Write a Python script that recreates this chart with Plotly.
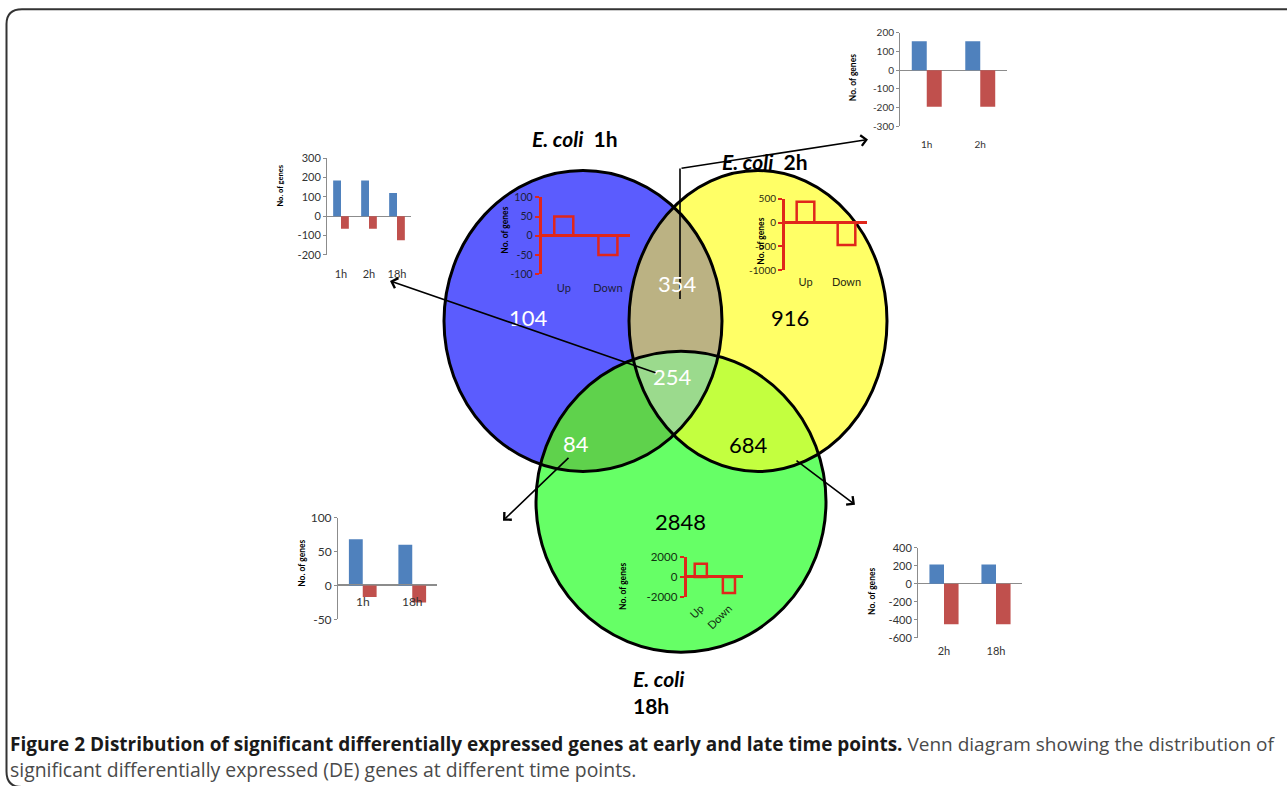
import numpy as np
import plotly.graph_objects as go

W, H = 1287, 786          # reference picture size
FW, FH = W, 800           # figure size (pinned to the page corner)
# measured mapping of page rows onto the photographed picture: pic_y = A_Y + B_Y * page_y
A_Y, B_Y = 8.0, 0.978
Y_TOP, Y_BOT = A_Y, A_Y + B_Y * FH

# ---------------- data ----------------
venn_labels = ["104", "354", "916", "254", "84", "684", "2848"]
venn_counts = [104, 354, 916, 254, 84, 684, 2848]
venn_text_colors = ["white", "white", "black", "white", "white", "black", "black"]

# shared by 1h, 2h and 18h (region 254)
c254_cats = ["1h", "2h", "18h"]
c254_up = [185, 185, 120]
c254_down = [-65, -65, -125]
# shared by 1h and 2h (region 354)
c354_cats = ["1h", "2h"]
c354_up = [155, 155]
c354_down = [-195, -195]
# shared by 1h and 18h (region 84)
c84_cats = ["1h", "18h"]
c84_up = [68, 60]
c84_down = [-17, -25]
# shared by 2h and 18h (region 684)
c684_cats = ["2h", "18h"]
c684_up = [215, 215]
c684_down = [-450, -450]
# unique genes
ud_cats = ["Up", "Down"]
u104_vals = [50, -50]
u916_vals = [440, -470]
u2848_vals = [1300, -1600]

# ---------------- geometry (reference pixels) ----------------
BLUE_E = (583, 320, 139, 150)
YEL_E = (758, 320, 129, 150)
GRN_E = (681, 500, 145, 150)

region_pos = [(528, 316), (677, 283), (790, 316), (672, 375), (576, 442), (748, 443), (680, 520)]

FONT = "Lato"
AX_GRAY = "#8c8c8c"
BAR_BLUE = "#4f81bd"
BAR_RED = "#c0504d"
INSET_RED = "#e0261b"


def fx(px):
    return px / FW


def fy(py):
    return 1 - (py - Y_TOP) / (Y_BOT - Y_TOP)


def ellipse_poly(cx, cy, rx, ry, n=360):
    t = np.linspace(0, 2 * np.pi, n, endpoint=False)
    return list(zip(cx + rx * np.cos(t), cy + ry * np.sin(t)))


def _inter(p1, p2, a, b):
    x1, y1 = p1; x2, y2 = p2; x3, y3 = a; x4, y4 = b
    den = (x1 - x2) * (y3 - y4) - (y1 - y2) * (x3 - x4)
    t = ((x1 - x3) * (y3 - y4) - (y1 - y3) * (x3 - x4)) / den
    return (x1 + t * (x2 - x1), y1 + t * (y2 - y1))


def clip(subject, clipper):
    n = len(clipper)
    area = sum(clipper[i][0] * clipper[(i + 1) % n][1] - clipper[(i + 1) % n][0] * clipper[i][1] for i in range(n))
    s = 1 if area > 0 else -1

    def inside(a, b, p):
        return s * ((b[0] - a[0]) * (p[1] - a[1]) - (b[1] - a[1]) * (p[0] - a[0])) >= 0

    out = subject
    for i in range(n):
        a = clipper[i]; b = clipper[(i + 1) % n]
        inp = out; out = []
        if not inp:
            break
        prev = inp[-1]
        for cur in inp:
            ci = inside(a, b, cur); pi = inside(a, b, prev)
            if ci:
                if not pi:
                    out.append(_inter(prev, cur, a, b))
                out.append(cur)
            elif pi:
                out.append(_inter(prev, cur, a, b))
            prev = cur
    return out


def path_of(poly):
    return "M " + " L ".join(f"{x:.2f},{y:.2f}" for x, y in poly) + " Z"


PB = ellipse_poly(*BLUE_E)
PY = ellipse_poly(*YEL_E)
PG = ellipse_poly(*GRN_E)
BY = clip(PB, PY)
BG = clip(PB, PG)
YG = clip(PY, PG)
BYG = clip(BY, PG)

shapes = []
for poly, col in [(PB, "#5b5cfe"), (PY, "#ffff66"), (PG, "#66ff66"),
                  (BY, "#bbb283"), (BG, "#5fd24c"), (YG, "#c3ff3f"), (BYG, "#9bda8d")]:
    shapes.append(dict(type="path", path=path_of(poly), xref="x", yref="y",
                       fillcolor=col, line=dict(width=0), layer="below"))
for (cx, cy, rx, ry) in [BLUE_E, YEL_E, GRN_E]:
    shapes.append(dict(type="circle", xref="x", yref="y", x0=cx - rx, x1=cx + rx,
                       y0=cy - ry, y1=cy + ry, line=dict(color="black", width=3),
                       fillcolor="rgba(0,0,0,0)", layer="below"))
# vertical part of the arrow leaving region 354
shapes.append(dict(type="line", xref="x", yref="y", x0=680, y0=298, x1=680, y1=168,
                   line=dict(color="black", width=1.6), layer="below"))
# frame with rounded left corners
shapes.append(dict(type="path", xref="x", yref="y",
                   path="M 1300,9.2 L 22,9.2 Q 6.5,9.2 6.5,24 L 6.5,769 Q 6.5,784.5 22,784.5",
                   line=dict(color="#333", width=2), layer="below"))

fig = go.Figure()
fig.add_trace(go.Scatter(x=[100], y=[100], mode="markers", marker=dict(opacity=0),
                         hoverinfo="skip", xaxis="x", yaxis="y"))

layout = dict(
    width=FW, height=FH, margin=dict(l=0, r=0, t=0, b=0, pad=0),
    paper_bgcolor="white", plot_bgcolor="rgba(0,0,0,0)",
    showlegend=False, barmode="group", bargap=0.44, bargroupgap=0,
    xaxis=dict(range=[0, FW], domain=[0, 1], visible=False, fixedrange=True),
    yaxis=dict(range=[Y_BOT, Y_TOP], domain=[0, 1], visible=False, fixedrange=True),
)

annotations = []


def add_inset(k, xl, xr, ytop, ybot, yrange, tickvals, cats, traces, inner=False,
              tfs=10, cfs=10, standoff=8, tickangle=0, free_zero=None, ytitle=None,
              tickcolor="#333"):
    xa = f"x{k}"; ya = f"y{k}"
    for tr in traces:
        tr.update(xaxis=xa, yaxis=ya)
        fig.add_trace(tr)
    lc = INSET_RED if inner else AX_GRAY
    lw = 3 if inner else 1
    xax = dict(domain=[fx(xl), fx(xr)], anchor=ya, type="category",
               range=[-0.5, len(cats) - 0.5], showgrid=False, zeroline=False,
               showline=False, ticks="", tickangle=tickangle,
               tickfont=dict(family=FONT, size=cfs, color=tickcolor),
               ticklabelstandoff=standoff, fixedrange=True)
    if free_zero is not None:
        xax.update(anchor="free", position=fy(free_zero), showline=True,
                   linecolor=lc, linewidth=lw)
    yax = dict(domain=[fy(ybot), fy(ytop)], anchor=xa, range=yrange,
               tickvals=tickvals, ticktext=[str(v) for v in tickvals],
               showgrid=False, showline=True, linecolor=lc,
               linewidth=lw, ticks="outside", ticklen=4 if inner else 3,
               tickcolor=lc, tickwidth=2 if inner else 1,
               zeroline=True, zerolinecolor=lc, zerolinewidth=lw,
               tickfont=dict(family=FONT, size=tfs, color=tickcolor), fixedrange=True)
    layout[f"xaxis{k}"] = xax
    layout[f"yaxis{k}"] = yax
    if ytitle:
        tx, ty, fs = ytitle
        annotations.append(dict(x=tx, y=ty, xref="x", yref="y", text="<b>No. of genes</b>",
                                textangle=-90, showarrow=False,
                                font=dict(family=FONT, size=fs, color="black")))


def gbars(cats, up, down):
    return [go.Bar(x=cats, y=up, marker=dict(color=BAR_BLUE, line=dict(width=0)), hoverinfo="skip"),
            go.Bar(x=cats, y=down, marker=dict(color=BAR_RED, line=dict(width=0)), hoverinfo="skip")]


def obars(cats, vals):
    return [go.Bar(x=cats, y=vals, width=0.43,
                   marker=dict(color="rgba(0,0,0,0)", line=dict(color=INSET_RED, width=2.5)),
                   hoverinfo="skip")]


# outside charts
add_inset(2, 327, 411, 157.7, 254, [-200, 300], [-200, -100, 0, 100, 200, 300],
          c254_cats, gbars(c254_cats, c254_up, c254_down), tfs=11, cfs=11, standoff=11,
          ytitle=(281, 185, 7.5))
add_inset(3, 900, 1007, 32.7, 126, [-300, 200], [-300, -200, -100, 0, 100, 200],
          c354_cats, gbars(c354_cats, c354_up, c354_down), tfs=10, cfs=10, standoff=11,
          ytitle=(853, 78, 8.5))
add_inset(4, 338, 437, 516, 617.3, [-50, 100], [-50, 0, 50, 100],
          c84_cats, gbars(c84_cats, c84_up, c84_down), tfs=12, cfs=12, standoff=7,
          free_zero=582, ytitle=(302, 562, 8.5))
add_inset(5, 918, 1022, 546, 635.7, [-600, 400], [-600, -400, -200, 0, 200, 400],
          c684_cats, gbars(c684_cats, c684_up, c684_down), tfs=11, cfs=11, standoff=5,
          ytitle=(872, 590, 8.5))
# inner charts
add_inset(6, 541.7, 630, 196.7, 273.3, [-100, 100], [-100, -50, 0, 50, 100],
          ud_cats, obars(ud_cats, u104_vals), inner=True, tfs=10.5, cfs=11, standoff=6,
          ytitle=(505, 230, 8.5), tickcolor="#1c1c3a")
add_inset(7, 785, 867, 198.3, 269.3, [-1000, 500], [-1000, -500, 0, 500],
          ud_cats, obars(ud_cats, u916_vals), inner=True, tfs=10, cfs=11, standoff=4,
          ytitle=(761, 241, 8.5), tickcolor="#2a2a10")
add_inset(8, 686.7, 743, 555, 595, [-2000, 2000], [-2000, 0, 2000],
          ud_cats, obars(ud_cats, u2848_vals), inner=True, tfs=11.5, cfs=11, standoff=2,
          tickangle=-45, ytitle=(623, 585, 8.5), tickcolor="#103010")

# region counts
for lab, cnt, (px, py), col in zip(venn_labels, venn_counts, region_pos, venn_text_colors):
    annotations.append(dict(x=px, y=py, xref="x", yref="y", text=lab, showarrow=False,
                            font=dict(family=FONT, size=22, color=col)))

# set names
annotations += [
    dict(x=575, y=138, xref="x", yref="y", text="<b><i>E. coli</i>  1h</b>", showarrow=False,
         font=dict(family=FONT, size=21, color="black")),
    dict(x=765, y=161, xref="x", yref="y", text="<b><i>E. coli</i>  2h</b>", showarrow=False,
         font=dict(family=FONT, size=21, color="black")),
    dict(x=631, y=676, xref="x", yref="y", text="<b><i>E. coli</i></b>", showarrow=False,
         xanchor="left", font=dict(family=FONT, size=21, color="black")),
    dict(x=631, y=703, xref="x", yref="y", text="<b>18h</b>", showarrow=False,
         xanchor="left", font=dict(family=FONT, size=21, color="black")),
]

# arrows
for (hx, hy, tx, ty) in [(390, 280, 657, 372), (868, 139, 680, 168),
                         (503, 519, 570, 455), (855, 503, 795, 458)]:
    annotations.append(dict(x=hx, y=hy, ax=tx, ay=ty, xref="x", yref="y", axref="x", ayref="y",
                            text="", showarrow=True, arrowhead=4, arrowsize=1.3,
                            arrowwidth=1.6, arrowcolor="black"))

# caption
annotations += [
    dict(x=8, y=742, xref="x", yref="y", xanchor="left", yanchor="middle",
         showarrow=False, align="left",
         text=("<b><span style='color:#1a1a1a'>Figure 2 Distribution of significant differentially "
               "expressed genes at early and late time points.</span></b>"
               "<span style='color:#4a4a4a'> Venn diagram showing the distribution of</span>"),
         font=dict(family="Open Sans", size=19)),
    dict(x=8, y=767, xref="x", yref="y", xanchor="left", yanchor="middle",
         showarrow=False, align="left",
         text="significant differentially expressed (DE) genes at different time points.",
         font=dict(family="Open Sans", size=19.4, color="#4a4a4a")),
]

layout["shapes"] = shapes
layout["annotations"] = annotations
fig.update_layout(**layout)

pin_to_corner = (
    "document.documentElement.style.margin='0';"
    "document.body.style.margin='0';"
    "document.body.style.overflow='hidden';"
    "var d=document.getElementById('{plot_id}');"
    "d.style.position='fixed';d.style.left='0px';d.style.top='0px';"
)
fig.write_html("out.html", config={"displayModeBar": False}, post_script=pin_to_corner)
